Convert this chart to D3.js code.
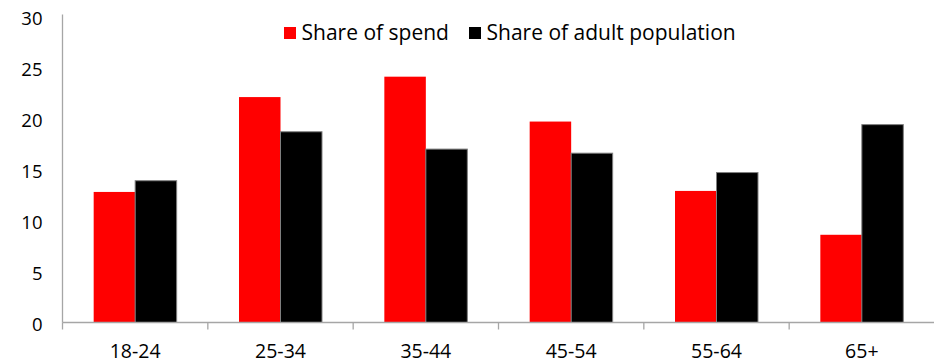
<!DOCTYPE html>
<html>
<head>
<meta charset="utf-8">
<script src="https://cdn.jsdelivr.net/npm/d3@7"></script>
<style>
  html, body { margin: 0; padding: 0; background: #fff; }
  svg { display: block; font-family: "Open Sans", sans-serif; }
</style>
</head>
<body>
<svg id="chart" width="934" height="363"></svg>
<script>
// Age bands and the two series (percent)
const categories = ["18-24", "25-34", "35-44", "45-54", "55-64", "65+"];
const seriesNames = ["Share of spend", "Share of adult population"];
const shareOfSpend = [12.8, 22.1, 24.1, 19.7, 12.9, 8.6];
const shareOfPopulation = [13.9, 18.7, 17.0, 16.6, 14.7, 19.4];
const yTicks = [0, 5, 10, 15, 20, 25, 30];
const colors = ["#ff0000", "#000000"];

const svg = d3.select("#chart");
const plotLeft = 62.5, plotRight = 934.5, plotTop = 16.5, plotBottom = 322.5;

const x0 = d3.scaleBand()
  .domain(categories)
  .range([plotLeft, plotRight])
  .paddingInner(0.429)
  .paddingOuter(0.2145);

const x1 = d3.scaleBand()
  .domain(seriesNames)
  .range([0, x0.bandwidth()]);

const y = d3.scaleLinear().domain([0, 30]).range([plotBottom, plotTop]);

const rows = categories.map((c, i) => ({
  cat: c,
  values: [shareOfSpend[i], shareOfPopulation[i]]
}));

// Bars
const groups = svg.append("g").selectAll("g")
  .data(rows)
  .join("g")
  .attr("transform", d => `translate(${x0(d.cat)},0)`);

groups.selectAll("rect")
  .data(d => d.values.map((v, k) => ({ name: seriesNames[k], v, k })))
  .join("rect")
  .attr("x", d => x1(d.name))
  .attr("width", x1.bandwidth())
  .attr("y", d => y(d.v))
  .attr("height", d => y(0) - y(d.v))
  .attr("fill", d => colors[d.k])
  .attr("stroke", d => d.k === 1 ? "#7f7f7f" : "none")
  .attr("stroke-width", 1);

// Y axis: line and labels, no tick marks
const yAxis = svg.append("g")
  .attr("transform", `translate(${plotLeft},0)`)
  .call(d3.axisLeft(y).tickValues(yTicks).tickSize(0).tickPadding(20));
yAxis.select(".domain").attr("stroke", "#a6a6a6").attr("stroke-width", 1.3)
  .attr("d", `M0,${plotBottom}V${plotTop - 2}`);
yAxis.selectAll("text")
  .attr("font-family", "Open Sans, sans-serif")
  .attr("font-size", 18.5)
  .attr("fill", "#000")
  .attr("dy", "0.45em");

// X axis: baseline, category dividers, labels
const xg = svg.append("g");
xg.append("line")
  .attr("x1", plotLeft).attr("x2", 934)
  .attr("y1", plotBottom).attr("y2", plotBottom)
  .attr("stroke", "#a6a6a6").attr("stroke-width", 1.3);

const boundaries = categories.map(c => x0(c) - x0.step() * x0.paddingInner() / 2);
xg.selectAll("line.div")
  .data(boundaries)
  .join("line")
  .attr("class", "div")
  .attr("x1", d => d).attr("x2", d => d)
  .attr("y1", plotBottom).attr("y2", plotBottom + 7)
  .attr("stroke", "#a6a6a6").attr("stroke-width", 1.3);

xg.selectAll("text")
  .data(categories)
  .join("text")
  .attr("x", d => x0(d) + x0.bandwidth() / 2)
  .attr("y", 358)
  .attr("text-anchor", "middle")
  .attr("font-size", 19.5)
  .attr("fill", "#000")
  .text(d => d);

// Legend
const legendX = [284, 469];
const legend = svg.append("g").selectAll("g")
  .data(seriesNames)
  .join("g")
  .attr("transform", (d, i) => `translate(${legendX[i]},27)`);
legend.append("rect")
  .attr("width", 12).attr("height", 12)
  .attr("fill", (d, i) => colors[i]);
legend.append("text")
  .attr("x", 17.5)
  .attr("y", 12.5)
  .attr("font-size", 21)
  .attr("fill", "#000")
  .text(d => d);
</script>
</body>
</html>
